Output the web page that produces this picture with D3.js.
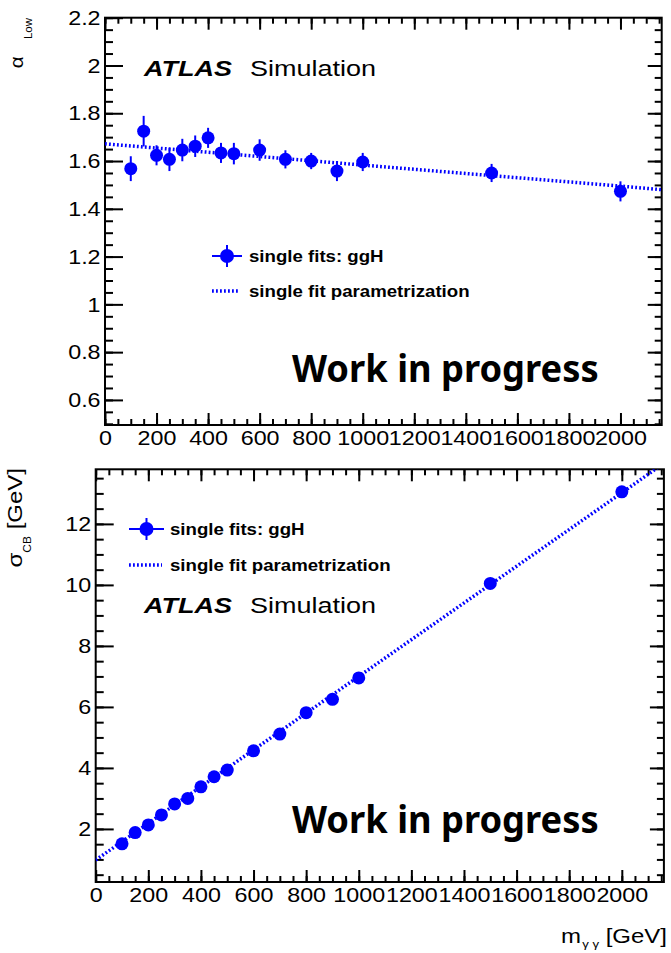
<!DOCTYPE html>
<html>
<head>
<meta charset="utf-8">
<script src="https://cdn.jsdelivr.net/npm/d3@7"></script>
<style>
  html, body { margin: 0; padding: 0; background: #fff; }
  svg { display: block; }
</style>
</head>
<body>
<svg id="fig" width="671" height="953"></svg>
<script>
// Signal mass points [GeV]
const masses = [100, 150, 200, 250, 300, 350, 400, 450, 500, 600, 700, 800, 900, 1000, 1500, 2000];

// alpha_Low from single fits (ggH)
const alphaLow    = [1.568, 1.725, 1.624, 1.607, 1.646, 1.662, 1.697, 1.634, 1.631, 1.646, 1.607, 1.600, 1.558, 1.596, 1.550, 1.473];
const alphaLowErr = [0.052, 0.064, 0.042, 0.049, 0.047, 0.045, 0.042, 0.042, 0.045, 0.045, 0.038, 0.034, 0.042, 0.038, 0.038, 0.042];

// sigma_CB [GeV] from single fits (ggH)
const sigmaCB    = [1.51, 1.88, 2.13, 2.46, 2.82, 3.00, 3.38, 3.71, 3.93, 4.56, 5.11, 5.81, 6.25, 6.95, 10.05, 13.05];
const sigmaCBErr = [0.03, 0.03, 0.03, 0.03, 0.04, 0.04, 0.04, 0.04, 0.05, 0.05, 0.05, 0.06, 0.06, 0.07, 0.09, 0.12];

// Parametrization curves evaluated at a few masses
const fitMass  = [0, 500, 1000, 1500, 2000, 2160];
const alphaFit = [1.672, 1.628, 1.583, 1.539, 1.495, 1.480];
const sigmaFit = [0.98, 3.99, 7.00, 10.01, 13.02, 13.99];

// Axis tick labels
const xTickLabels     = [0, 200, 400, 600, 800, 1000, 1200, 1400, 1600, 1800, 2000];
const alphaTickLabels = [0.6, 0.8, 1, 1.2, 1.4, 1.6, 1.8, 2, 2.2];
const sigmaTickLabels = [2, 4, 6, 8, 10, 12];

const legendLabels = ["single fits: ggH", "single fit parametrization"];

const BLUE = "#0000ff";
const HELV = "'Liberation Sans', Arial, Helvetica, sans-serif";
const svg = d3.select("#fig");

// text helper: places text with an optional horizontal stretch and rotation
function stext(parent, x, y, txt, o = {}) {
  const t = parent.append("text")
    .attr("transform", `translate(${x},${y}) rotate(${o.rotate || 0}) scale(${o.sx || 1},1)`)
    .attr("font-family", o.family || HELV)
    .attr("font-size", o.size || 20)
    .attr("font-weight", o.weight || "normal")
    .attr("font-style", o.style || "normal")
    .attr("text-anchor", o.anchor || "start")
    .attr("fill", o.fill || "#000");
  if (txt !== null) t.text(txt);
  return t;
}

function panel(cfg) {
  const g = svg.append("g");
  const x = d3.scaleLinear().domain(cfg.xDomain).range([cfg.left, cfg.right]);
  const y = d3.scaleLinear().domain(cfg.yDomain).range([cfg.bottom, cfg.top]);
  const clipId = "clip" + cfg.id;
  svg.append("clipPath").attr("id", clipId).append("rect")
    .attr("x", cfg.left).attr("y", cfg.top)
    .attr("width", cfg.right - cfg.left).attr("height", cfg.bottom - cfg.top);

  const xMinor = d3.range(0, cfg.xDomain[1] + 1e-9, 50);
  const yMinor = d3.range(Math.ceil(cfg.yDomain[0] / cfg.yMinorStep) * cfg.yMinorStep,
                          cfg.yDomain[1] + 1e-9, cfg.yMinorStep);

  function styleAxis(a) {
    a.select(".domain").remove();
    a.selectAll(".tick line").attr("stroke", "#000").attr("stroke-width", 2);
  }
  // bottom axis with labels
  g.append("g").attr("transform", `translate(0,${cfg.bottom})`)
    .call(d3.axisBottom(x).tickValues(xTickLabels).tickSize(-12).tickPadding(5).tickFormat(d => String(d)))
    .call(styleAxis)
    .call(a => a.selectAll("text")
      .attr("font-family", HELV).attr("font-size", 21).attr("fill", "#000")
      .attr("transform", "scale(1.11,1)"));
  g.append("g").attr("transform", `translate(0,${cfg.bottom})`)
    .call(d3.axisBottom(x).tickValues(xMinor).tickSize(-6).tickFormat(""))
    .call(styleAxis);
  // top axis ticks
  g.append("g").attr("transform", `translate(0,${cfg.top})`)
    .call(d3.axisTop(x).tickValues(xTickLabels).tickSize(-12).tickFormat(""))
    .call(styleAxis);
  g.append("g").attr("transform", `translate(0,${cfg.top})`)
    .call(d3.axisTop(x).tickValues(xMinor).tickSize(-6).tickFormat(""))
    .call(styleAxis);
  // left axis with labels
  g.append("g").attr("transform", `translate(${cfg.left},0)`)
    .call(d3.axisLeft(y).tickValues(cfg.yTicks).tickSize(-18).tickPadding(4).tickFormat(d => String(d)))
    .call(styleAxis)
    .call(a => a.selectAll("text")
      .attr("font-family", HELV).attr("font-size", 21).attr("fill", "#000")
      .attr("transform", "scale(1.11,1)"));
  g.append("g").attr("transform", `translate(${cfg.left},0)`)
    .call(d3.axisLeft(y).tickValues(yMinor).tickSize(-8).tickFormat(""))
    .call(styleAxis);
  // right axis ticks
  g.append("g").attr("transform", `translate(${cfg.right},0)`)
    .call(d3.axisRight(y).tickValues(cfg.yTicks).tickSize(-14).tickFormat(""))
    .call(styleAxis);
  g.append("g").attr("transform", `translate(${cfg.right},0)`)
    .call(d3.axisRight(y).tickValues(yMinor).tickSize(-7).tickFormat(""))
    .call(styleAxis);

  // frame
  g.append("rect")
    .attr("x", cfg.left).attr("y", cfg.top)
    .attr("width", cfg.right - cfg.left).attr("height", cfg.bottom - cfg.top)
    .attr("fill", "none").attr("stroke", "#000").attr("stroke-width", 2);

  // parametrization curve (dotted)
  const line = d3.line().x((d, i) => x(fitMass[i])).y(d => y(d));
  g.append("path")
    .attr("clip-path", `url(#${clipId})`)
    .attr("d", line(cfg.fit))
    .attr("fill", "none").attr("stroke", BLUE)
    .attr("stroke-width", 3.5).attr("stroke-dasharray", "1.8,2.2");

  // single-fit points with error bars
  const pts = g.append("g").selectAll("g").data(masses).join("g");
  pts.append("line")
    .attr("x1", d => x(d)).attr("x2", d => x(d))
    .attr("y1", (d, i) => y(cfg.vals[i] - cfg.errs[i]))
    .attr("y2", (d, i) => y(cfg.vals[i] + cfg.errs[i]))
    .attr("stroke", BLUE).attr("stroke-width", 2);
  pts.append("circle")
    .attr("cx", d => x(d)).attr("cy", (d, i) => y(cfg.vals[i]))
    .attr("r", 6.5).attr("fill", BLUE);

  // legend
  const lg = cfg.legend;
  g.append("line").attr("x1", lg.x0).attr("x2", lg.x1).attr("y1", lg.y1).attr("y2", lg.y1)
    .attr("stroke", BLUE).attr("stroke-width", 2);
  g.append("line").attr("x1", (lg.x0 + lg.x1) / 2).attr("x2", (lg.x0 + lg.x1) / 2)
    .attr("y1", lg.y1 - 11).attr("y2", lg.y1 + 11)
    .attr("stroke", BLUE).attr("stroke-width", 2);
  g.append("circle").attr("cx", (lg.x0 + lg.x1) / 2).attr("cy", lg.y1).attr("r", 7).attr("fill", BLUE);
  g.append("line").attr("x1", lg.x0).attr("x2", lg.x1 - 2).attr("y1", lg.y2).attr("y2", lg.y2)
    .attr("stroke", BLUE).attr("stroke-width", 3.5).attr("stroke-dasharray", "1.8,2.2");
  stext(g, lg.tx, lg.y1 + 6, legendLabels[0], { size: 16.5, weight: "bold", sx: 1.13 });
  stext(g, lg.tx, lg.y2 + 6, legendLabels[1], { size: 16.5, weight: "bold", sx: 1.13 });

  // ATLAS label
  stext(g, 144, cfg.atlasY, "ATLAS", { size: 22.5, weight: "bold", style: "italic", sx: 1.2 });
  stext(g, 250, cfg.atlasY, "Simulation", { size: 22.5, sx: 1.2 });

  // status label
  stext(g, 292, cfg.wipY, "Work in progress",
    { size: 38, sx: 0.955, weight: "bold", family: "'Noto Sans', 'Open Sans', sans-serif" });
  return g;
}

// upper panel: alpha_Low
const alphaPanel = panel({
  id: "a", left: 105, right: 661.7, top: 17.7, bottom: 425,
  xDomain: [0, 2160], yDomain: [0.495, 2.2], yTicks: alphaTickLabels, yMinorStep: 0.05,
  vals: alphaLow, errs: alphaLowErr, fit: alphaFit,
  legend: { x0: 212, x1: 242, y1: 256, y2: 291, tx: 249 },
  atlasY: 76, wipY: 382
});
const ta = stext(alphaPanel, 23, 18, null, { rotate: -90, anchor: "end", size: 18, sx: 1.15 });
ta.append("tspan").text("α");
ta.append("tspan").attr("dx", 15).attr("dy", 9).attr("font-size", 10).text("Low");

// lower panel: sigma_CB
const sigmaPanel = panel({
  id: "s", left: 95.7, right: 663.9, top: 469.3, bottom: 882,
  xDomain: [0, 2160], yDomain: [0.26, 13.79], yTicks: sigmaTickLabels, yMinorStep: 0.5,
  vals: sigmaCB, errs: sigmaCBErr, fit: sigmaFit,
  legend: { x0: 129, x1: 164, y1: 529, y2: 565, tx: 170 },
  atlasY: 613, wipY: 833
});
const ts = stext(sigmaPanel, 22, 468, null, { rotate: -90, anchor: "end", size: 20, sx: 1.2 });
ts.append("tspan").text("σ");
ts.append("tspan").attr("dy", 9).attr("font-size", 10).text("CB");
ts.append("tspan").attr("dy", -9).text(" [GeV]");

const tx = stext(sigmaPanel, 667, 943, null, { anchor: "end", size: 20, sx: 1.2 });
tx.append("tspan").text("m");
tx.append("tspan").attr("dx", 1).attr("dy", 5).attr("font-size", 11).text("γ  γ");
tx.append("tspan").attr("dy", -5).text(" [GeV]");
</script>
</body>
</html>
